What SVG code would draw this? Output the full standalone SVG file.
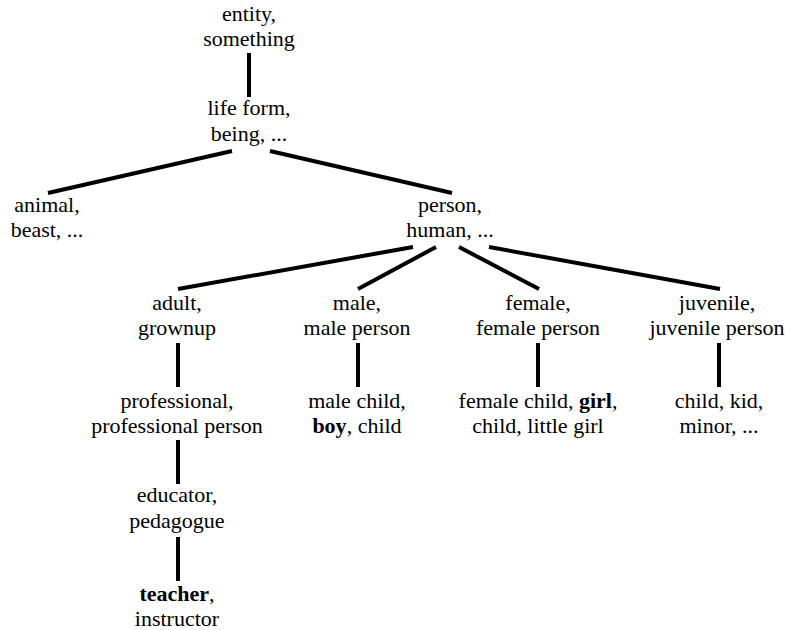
<svg xmlns="http://www.w3.org/2000/svg" width="785" height="630" viewBox="0 0 785 630">
<style>
text{font-family:'Liberation Serif','Times New Roman',Tinos,'Nimbus Roman','DejaVu Serif','Noto Serif',serif;font-size:22px;fill:#000;text-anchor:middle}
.b{font-weight:bold}
.c line{stroke:#000;stroke-width:4}
</style>
<rect width="785" height="630" fill="#fff"/>
<g class="c" id="connectors">
<line x1="249" y1="53" x2="249" y2="97"/>
<line x1="232" y1="151" x2="48" y2="193"/>
<line x1="270" y1="151" x2="452" y2="193"/>
<line x1="413" y1="247" x2="178" y2="289"/>
<line x1="436" y1="247" x2="358" y2="289"/>
<line x1="459" y1="247" x2="539" y2="289"/>
<line x1="489" y1="247" x2="720" y2="289"/>
<line x1="178" y1="343" x2="178" y2="387"/>
<line x1="358" y1="343" x2="358" y2="387"/>
<line x1="538" y1="343" x2="538" y2="387"/>
<line x1="719" y1="343" x2="719" y2="387"/>
<line x1="178" y1="440" x2="178" y2="484"/>
<line x1="178" y1="537" x2="178" y2="581"/>
</g>
<g id="entity"><text x="249" y="21">entity,</text><text x="249" y="46">something</text></g>
<g id="lifeform"><text x="249" y="115">life form,</text><text x="249" y="141">being, ...</text></g>
<g id="animal"><text x="47" y="212">animal,</text><text x="47" y="237">beast, ...</text></g>
<g id="person"><text x="450" y="212">person,</text><text x="450" y="237">human, ...</text></g>
<g id="adult"><text x="177" y="310">adult,</text><text x="177" y="335">grownup</text></g>
<g id="male"><text x="357" y="310">male,</text><text x="357" y="335">male person</text></g>
<g id="female"><text x="538" y="310">female,</text><text x="538" y="335">female person</text></g>
<g id="juvenile"><text x="717" y="310">juvenile,</text><text x="717" y="335">juvenile person</text></g>
<g id="professional"><text x="177" y="408">professional,</text><text x="177" y="433">professional person</text></g>
<g id="malechild"><text x="357" y="408">male child,</text><text x="357" y="433"><tspan class="b">boy</tspan>, child</text></g>
<g id="femalechild"><text x="538" y="408">female child, <tspan class="b">girl</tspan>,</text><text x="538" y="433">child, little girl</text></g>
<g id="child"><text x="719" y="408">child, kid,</text><text x="719" y="433">minor, ...</text></g>
<g id="educator"><text x="177" y="502">educator,</text><text x="177" y="528">pedagogue</text></g>
<g id="teacher"><text x="177" y="601"><tspan class="b">teacher</tspan>,</text><text x="177" y="626">instructor</text></g>
</svg>
